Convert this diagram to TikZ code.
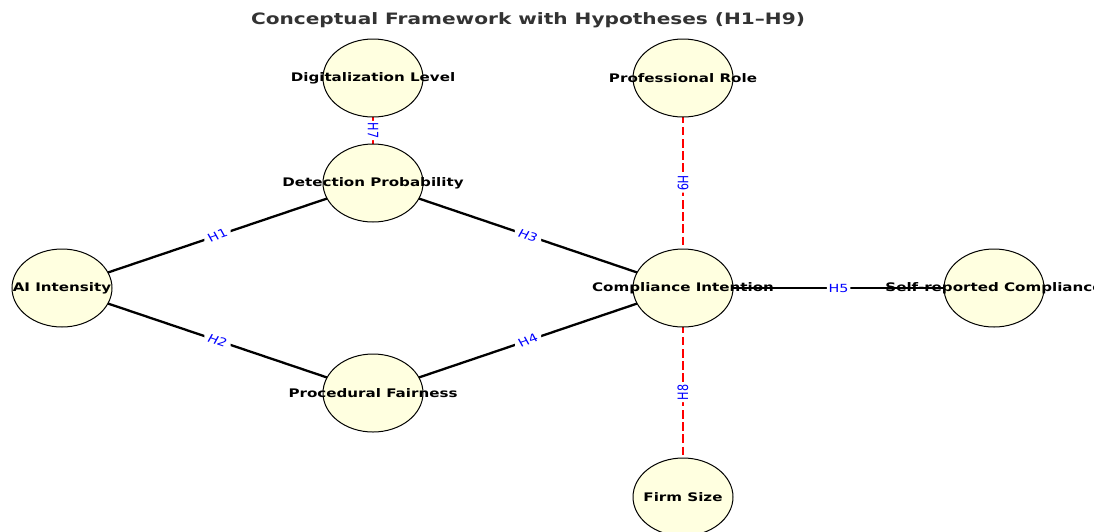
\documentclass[tikz,border=0pt]{standalone}
\usepackage{fontspec}
\setmainfont{DejaVu Sans}
\usetikzlibrary{shapes.geometric}
\pgfdeclarelayer{bg}
\pgfsetlayers{bg,main}
\definecolor{nodefill}{HTML}{FFFFE0}
\definecolor{titlegray}{HTML}{333333}
\definecolor{lblblue}{HTML}{0000FF}
\newcommand{\sx}[1]{\scalebox{1.28}[1]{#1}}
\begin{document}
\begin{tikzpicture}[x=1pt,y=-1pt,
  ell/.style={ellipse, draw=black, line width=1pt, fill=nodefill, minimum width=100pt, minimum height=78pt, inner sep=0pt},
  ntext/.style={font=\bfseries\fontsize{11.8}{12}\selectfont, inner sep=0pt, text=black},
  solidedge/.style={draw=black, line width=2.3pt},
  modedge/.style={draw=red, line width=2.8pt, dash pattern=on 8.5pt off 3.7pt},
  hlab/.style={fill=white, rounded corners=2pt, inner sep=1.8pt, text=lblblue, font=\fontsize{11.2}{12}\selectfont}]
\useasboundingbox (0,0) rectangle (1094,531);
\clip (0,0) rectangle (1094,531);
\node[font=\bfseries\fontsize{15.7}{16}\selectfont, text=titlegray] (title) at (528,20) {\sx{Conceptual Framework with Hypotheses (H1–H9)}};
\node[ell, label={[ntext]center:\sx{Digitalization Level}}] (dl) at (373,78) {};
\node[ell, label={[ntext]center:\sx{Detection Probability}}] (dp) at (373,183) {};
\node[ell, label={[ntext]center:\sx{Professional Role}}] (pr) at (683,78) {};
\node[ell, label={[ntext]center:\sx{AI Intensity}}] (ai) at (62,288) {};
\node[ell, label={[ntext]center:\sx{Compliance Intention}}] (ci) at (683,288) {};
\node[ell, label={[ntext]center:\sx{Self-reported Compliance}}] (sr) at (994,288) {};
\node[ell, label={[ntext]center:\sx{Procedural Fairness}}] (pf) at (373,393) {};
\node[ell, label={[ntext]center:\sx{Firm Size}}] (fs) at (683,497) {};
\begin{pgfonlayer}{bg}
\draw[solidedge] (ai.center) -- node[hlab]{\sx{\rotatebox{23.4}{H1}}} (dp.center);
\draw[solidedge] (ai.center) -- node[hlab]{\sx{\rotatebox{-23.4}{H2}}} (pf.center);
\draw[solidedge] (dp.center) -- node[hlab]{\sx{\rotatebox{-23.4}{H3}}} (ci.center);
\draw[solidedge] (pf.center) -- node[hlab]{\sx{\rotatebox{23.4}{H4}}} (ci.center);
\draw[solidedge] (ci.center) -- node[hlab]{\sx{H5}} (sr.center);
\draw[modedge] (dl.center) -- node[hlab]{\sx{\rotatebox{-90}{H7}}} (dp.center);
\draw[modedge] (pr.center) -- node[hlab]{\sx{\rotatebox{-90}{H9}}} (ci.center);
\draw[modedge] (ci.center) -- node[hlab]{\sx{\rotatebox{90}{H8}}} (fs.center);
\end{pgfonlayer}
\end{tikzpicture}
\end{document}
